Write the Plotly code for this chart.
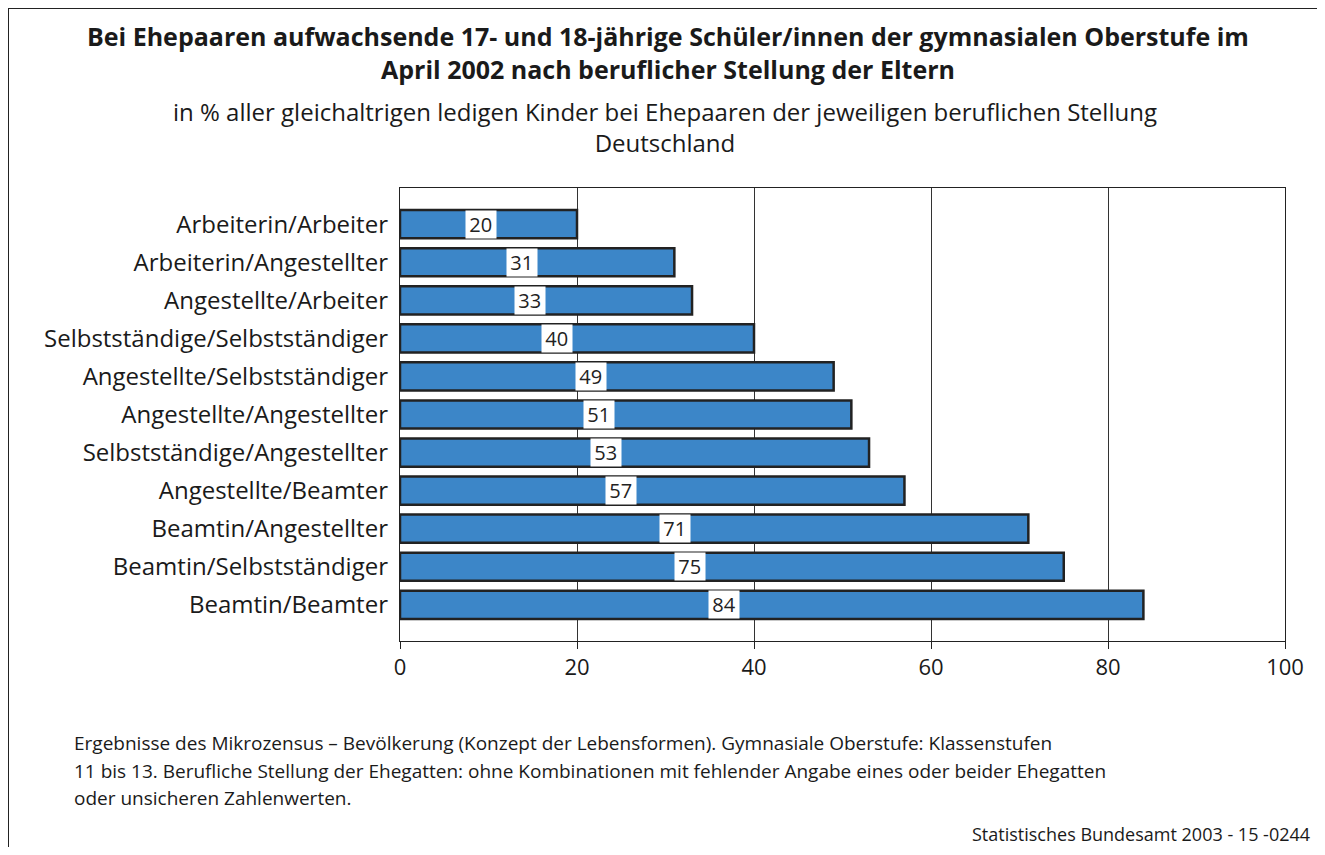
import plotly.graph_objects as go

categories = [
    "Arbeiterin/Arbeiter",
    "Arbeiterin/Angestellter",
    "Angestellte/Arbeiter",
    "Selbstständige/Selbstständiger",
    "Angestellte/Selbstständiger",
    "Angestellte/Angestellter",
    "Selbstständige/Angestellter",
    "Angestellte/Beamter",
    "Beamtin/Angestellter",
    "Beamtin/Selbstständiger",
    "Beamtin/Beamter",
]
values = [20, 31, 33, 40, 49, 51, 53, 57, 71, 75, 84]
tick_vals = [0, 20, 40, 60, 80, 100]

title_text = ("<b>Bei Ehepaaren aufwachsende 17- und 18-jährige Schüler/innen der gymnasialen Oberstufe im<br>"
              "April 2002 nach beruflicher Stellung der Eltern</b>")
subtitle_text = ("in % aller gleichaltrigen ledigen Kinder bei Ehepaaren der jeweiligen beruflichen Stellung<br>"
                 "Deutschland")
note_lines = [
    "Ergebnisse des Mikrozensus – Bevölkerung (Konzept der Lebensformen). Gymnasiale Oberstufe: Klassenstufen",
    "11 bis 13. Berufliche Stellung der Ehegatten: ohne Kombinationen mit fehlender Angabe eines oder beider Ehegatten",
    "oder unsicheren Zahlenwerten.",
]
source_text = "Statistisches Bundesamt 2003 - 15 -0244"

FONT = "Open Sans"
OFF = 8  # page body margin (on every side)
W, H = 1325 - 2 * OFF, 855 - 2 * OFF
L, T = 400 - OFF, 188 - OFF
R, B = W - (1285 - OFF), H - (641 - OFF)
pw, ph = W - L - R, H - T - B


def px(x):
    return (x - OFF - L) / pw


def py(y):
    return (H - B - (y - OFF)) / ph


fig = go.Figure(go.Bar(
    x=values, y=categories, orientation="h",
    marker=dict(color="#3c86c8", line=dict(color="#222222", width=2.5)),
    width=0.74, hoverinfo="x+y",
))

for c, v in zip(categories, values):
    fig.add_annotation(x=v * 0.43 + 0.5, y=c, xref="x", yref="y",
                       text="\u2009" + str(v) + "\u2009",
                       showarrow=False, bgcolor="white", borderpad=0,
                       font=dict(family=FONT, size=20, color="#222222"))

fig.add_annotation(x=px(668), y=py(52), xref="paper", yref="paper", text=title_text,
                   showarrow=False, xanchor="center", yanchor="middle", align="center",
                   font=dict(family=FONT, size=25, color="#1a1a1a"))
fig.add_annotation(x=px(665), y=py(127), xref="paper", yref="paper", text=subtitle_text,
                   showarrow=False, xanchor="center", yanchor="middle", align="center",
                   font=dict(family=FONT, size=24, color="#1a1a1a"))
for i, line in enumerate(note_lines):
    fig.add_annotation(x=px(72), y=py(743 + 27.5 * i), xref="paper", yref="paper", text=line,
                       showarrow=False, xanchor="left", yanchor="middle", align="left",
                       font=dict(family=FONT, size=19, color="#1a1a1a"))
fig.add_annotation(x=px(1312), y=py(834), xref="paper", yref="paper", text=source_text,
                   showarrow=False, xanchor="right", yanchor="middle", align="right",
                   font=dict(family=FONT, size=18, color="#1a1a1a"))

# outer frame: only left and top edges are visible in the picture
fig.add_shape(type="line", xref="paper", yref="paper",
              x0=px(8), y0=py(8), x1=px(1330), y1=py(8),
              line=dict(color="#222222", width=2), layer="below")
fig.add_shape(type="line", xref="paper", yref="paper",
              x0=px(8), y0=py(8), x1=px(8), y1=py(860),
              line=dict(color="#222222", width=2), layer="below")

fig.update_layout(
    width=W, height=H,
    margin=dict(l=L, r=R, t=T, b=B),
    paper_bgcolor="white", plot_bgcolor="white",
    showlegend=False,
    font=dict(family=FONT, size=23, color="#1a1a1a"),
    xaxis=dict(range=[0, 100], tickvals=tick_vals, showgrid=True, gridcolor="#333333",
               gridwidth=1, showline=True, linecolor="#222222", linewidth=1, mirror=True,
               ticks="outside", ticklen=7, tickcolor="#222222", zeroline=False,
               tickfont=dict(family=FONT, size=22)),
    yaxis=dict(autorange=False, range=[10.95, -0.95], showline=True, linecolor="#222222",
               linewidth=1, mirror=True, ticks="", ticksuffix=" ",
               tickfont=dict(family=FONT, size=24)),
)

fig.write_html("out.html")
